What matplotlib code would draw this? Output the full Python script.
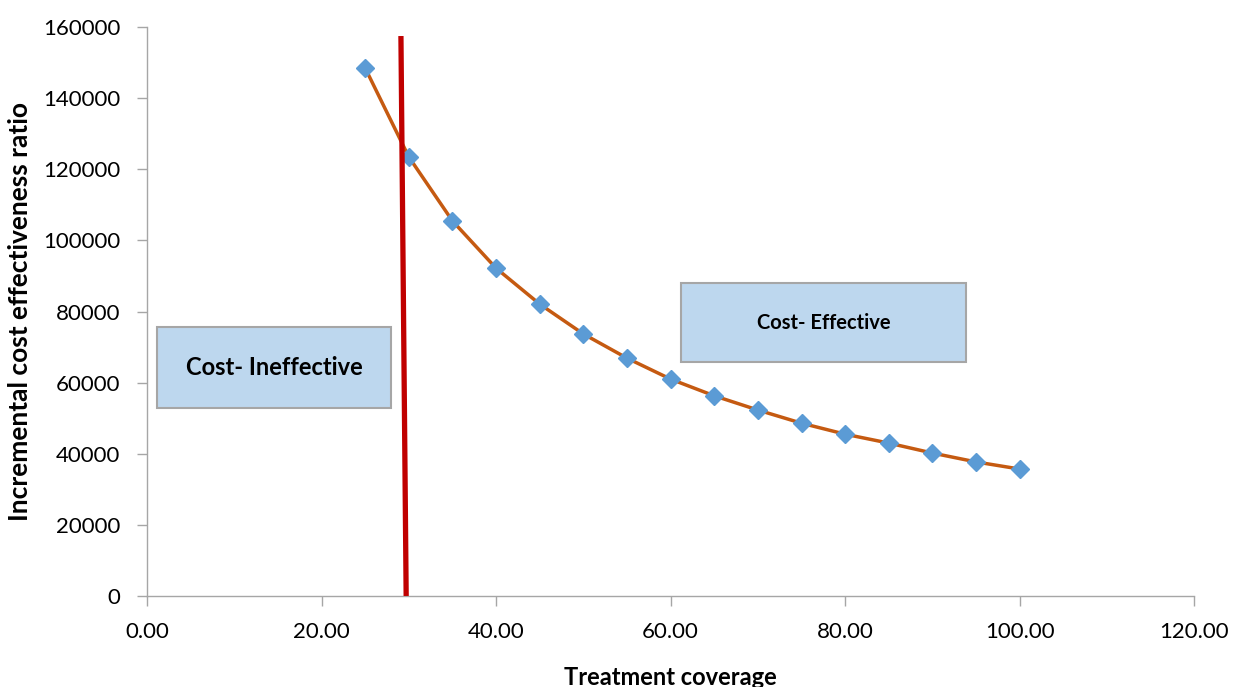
import matplotlib
matplotlib.use("Agg")
import matplotlib.pyplot as plt

plt.rcParams['font.family'] = ['Lato', 'DejaVu Sans']

# treatment coverage (%) and ICER values
coverage = [25, 30, 35, 40, 45, 50, 55, 60, 65, 70, 75, 80, 85, 90, 95, 100]
icer = [148500, 123500, 105500, 92200, 82100, 73700, 66900, 61000,
        56300, 52300, 48600, 45500, 43000, 40200, 37700, 35700]

# threshold line (slightly tilted in the original)
threshold_x = [29.1, 29.7]
threshold_y = [157500, 0]

x_ticks = [0, 20, 40, 60, 80, 100, 120]
y_ticks = [0, 20000, 40000, 60000, 80000, 100000, 120000, 140000, 160000]

fig = plt.figure(figsize=(12.35, 6.87), dpi=100)
ax = fig.add_axes([0.119, 0.1325, 0.848, 0.828])

ax.plot(coverage, icer, color='#C55A11', linewidth=2.5, zorder=3)
ax.plot(coverage, icer, linestyle='none', marker='D', markersize=9,
        color='#5B9BD5', zorder=4)
ax.plot(threshold_x, threshold_y, color='#C00000', linewidth=3.8,
        zorder=5, clip_on=False, solid_capstyle='butt')

gray = '#A6A6A6'
for s in ['top', 'right']:
    ax.spines[s].set_visible(False)
for s in ['left', 'bottom']:
    ax.spines[s].set_color(gray)
    ax.spines[s].set_linewidth(1.0)

ax.set_xlim(0, 120)
ax.set_ylim(0, 160000)
ax.set_xticks(x_ticks)
ax.set_xticklabels(['%.2f' % v for v in x_ticks])
ax.set_yticks(y_ticks)
ax.set_yticklabels([str(v) for v in y_ticks])
ax.tick_params(axis='both', colors=gray, labelcolor='black', labelsize=16,
               length=7, width=1.0, direction='out')
ax.tick_params(axis='x', pad=12)
ax.tick_params(axis='y', pad=12)

ax.set_xlabel('Treatment coverage', fontsize=17, fontweight='bold', labelpad=17)
ax.set_ylabel('Incremental cost effectiveness ratio', fontsize=19,
              fontweight='bold', labelpad=8)

box_style = dict(facecolor='#BDD7EE', edgecolor='#A6A6A6', linewidth=1.5)
ax.add_patch(plt.Rectangle((1.15, 52900), 26.8, 22700, zorder=2, **box_style))
ax.text(14.55, 64250, 'Cost- Ineffective', ha='center', va='center',
        fontsize=17, fontweight='bold', zorder=6)
ax.add_patch(plt.Rectangle((61.2, 65800), 32.7, 22200, zorder=2, **box_style))
ax.text(77.55, 76900, 'Cost- Effective', ha='center', va='center',
        fontsize=14.5, fontweight='bold', zorder=6)

fig.savefig('out.png', dpi=100)
